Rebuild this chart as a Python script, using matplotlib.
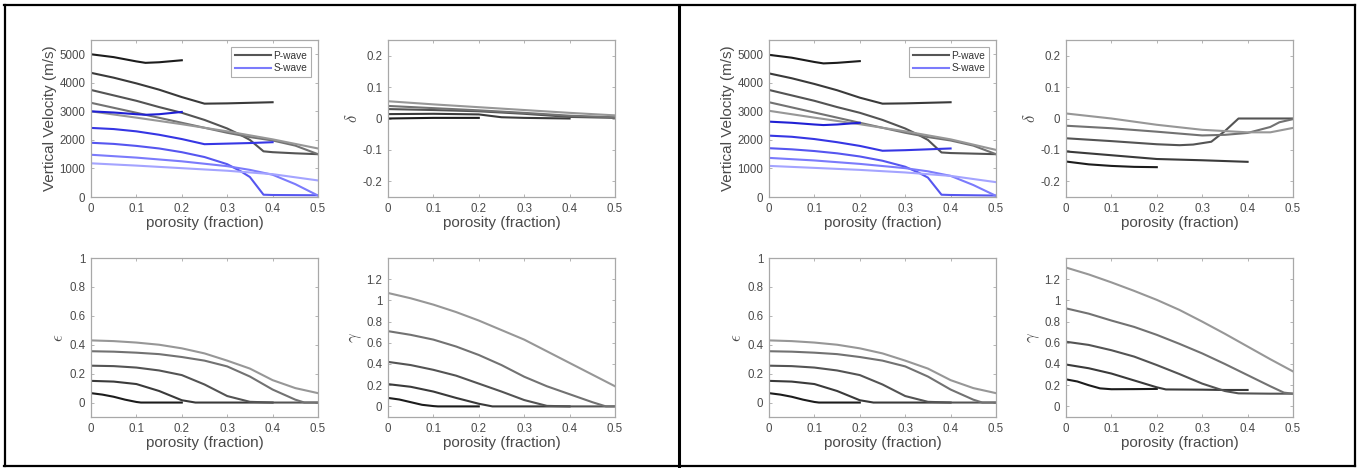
import numpy as np
import matplotlib
matplotlib.use('Agg')
import matplotlib.pyplot as plt
from matplotlib.lines import Line2D

plt.rcParams['font.family'] = ['Liberation Sans', 'DejaVu Sans']
plt.rcParams['mathtext.fontset'] = 'cm'

W, H = 1359, 468

# porosity grids per curve (curve 1 stops at 0.2, curve 2 at 0.4)
phi_v1 = [0, 0.05, 0.1, 0.12, 0.15, 0.2]
phi_v2 = [0, 0.05, 0.1, 0.15, 0.2, 0.25, 0.3, 0.35, 0.4]
phi_v3 = [0, 0.05, 0.1, 0.15, 0.2, 0.25, 0.3, 0.33, 0.35, 0.38, 0.4, 0.45, 0.5]
phi_v4 = [0, 0.1, 0.2, 0.3, 0.35, 0.4, 0.45, 0.5]
phi_v5 = [0, 0.1, 0.2, 0.3, 0.4, 0.5]
phi_vel = [phi_v1, phi_v2, phi_v3, phi_v4, phi_v5]

# ---- left case ----
vp_left = [
    [5000, 4900, 4750, 4700, 4720, 4790],
    [4350, 4180, 3980, 3760, 3500, 3270, 3280, 3300, 3320],
    [3750, 3560, 3370, 3150, 2950, 2700, 2400, 2170, 2000, 1600, 1570, 1530, 1500],
    [3300, 2950, 2600, 2250, 2100, 1980, 1800, 1500],
    [3000, 2780, 2550, 2300, 2020, 1700],
]
vs_left = [
    [3000, 2960, 2900, 2880, 2900, 2980],
    [2420, 2380, 2300, 2180, 2030, 1850, 1870, 1890, 1920],
    [1900, 1860, 1790, 1700, 1570, 1400, 1150, 900, 700, 80, 70, 65, 60],
    [1480, 1380, 1250, 1080, 950, 780, 450, 50],
    [1180, 1100, 1010, 920, 800, 580],
]

phi_d1 = [0, 0.05, 0.1, 0.15, 0.2]
phi_d2 = [0, 0.1, 0.2, 0.25, 0.3, 0.4]
phi_d3 = [0, 0.1, 0.2, 0.3, 0.4, 0.5]
phi_d4 = [0, 0.1, 0.2, 0.3, 0.4, 0.5]
phi_d5 = [0, 0.1, 0.2, 0.3, 0.4, 0.5]
delta_left = [
    [0.0, 0.001, 0.002, 0.002, 0.002],
    [0.014, 0.015, 0.013, 0.004, 0.002, 0.0],
    [0.030, 0.027, 0.023, 0.015, 0.005, 0.002],
    [0.040, 0.033, 0.026, 0.018, 0.009, 0.004],
    [0.055, 0.045, 0.036, 0.027, 0.018, 0.010],
]
phi_delta_left = [phi_d1, phi_d2, phi_d3, phi_d4, phi_d5]

phi_e1 = [0, 0.025, 0.05, 0.075, 0.1, 0.11, 0.15, 0.2]
phi_e2 = [0, 0.05, 0.1, 0.15, 0.2, 0.23, 0.3, 0.4]
phi_e3 = [0, 0.05, 0.1, 0.15, 0.2, 0.25, 0.3, 0.35, 0.4, 0.5]
phi_e4 = [0, 0.05, 0.1, 0.15, 0.2, 0.25, 0.3, 0.35, 0.4, 0.45, 0.47, 0.5]
phi_e5 = [0, 0.05, 0.1, 0.15, 0.2, 0.25, 0.3, 0.35, 0.4, 0.45, 0.5]
phi_eps = [phi_e1, phi_e2, phi_e3, phi_e4, phi_e5]
eps_vals = [
    [0.065, 0.055, 0.04, 0.02, 0.004, 0.0, 0.0, 0.0],
    [0.15, 0.145, 0.128, 0.08, 0.016, 0.0, 0.0, 0.0],
    [0.255, 0.252, 0.242, 0.222, 0.19, 0.125, 0.045, 0.005, 0.0, 0.0],
    [0.355, 0.352, 0.345, 0.335, 0.315, 0.29, 0.25, 0.18, 0.09, 0.02, 0.0, 0.0],
    [0.43, 0.425, 0.415, 0.40, 0.375, 0.34, 0.29, 0.235, 0.155, 0.10, 0.065],
]

phi_g1 = [0, 0.025, 0.05, 0.075, 0.1, 0.11, 0.2]
phi_g2 = [0, 0.05, 0.1, 0.15, 0.2, 0.23, 0.3, 0.4]
phi_g3 = [0, 0.05, 0.1, 0.15, 0.2, 0.25, 0.3, 0.35, 0.4, 0.5]
phi_g4 = [0, 0.05, 0.1, 0.15, 0.2, 0.25, 0.3, 0.35, 0.4, 0.45, 0.48, 0.5]
phi_g5 = [0, 0.05, 0.1, 0.15, 0.2, 0.25, 0.3, 0.35, 0.4, 0.45, 0.5]
phi_gamma_left = [phi_g1, phi_g2, phi_g3, phi_g4, phi_g5]
gamma_left = [
    [0.08, 0.065, 0.04, 0.015, 0.003, 0.0, 0.0],
    [0.21, 0.185, 0.14, 0.08, 0.025, 0.0, 0.0, 0.0],
    [0.42, 0.39, 0.345, 0.29, 0.215, 0.14, 0.06, 0.005, 0.0, 0.0],
    [0.71, 0.675, 0.63, 0.565, 0.485, 0.39, 0.28, 0.19, 0.115, 0.04, 0.0, 0.0],
    [1.07, 1.02, 0.96, 0.89, 0.81, 0.72, 0.63, 0.52, 0.41, 0.30, 0.19],
]

# ---- right case ----
vp_right = [
    [4980, 4880, 4730, 4680, 4700, 4760],
    [4330, 4160, 3960, 3740, 3480, 3270, 3280, 3300, 3320],
    [3750, 3560, 3370, 3150, 2950, 2700, 2400, 2170, 2000, 1560, 1540, 1520, 1500],
    [3320, 2960, 2600, 2250, 2100, 1980, 1800, 1500],
    [3020, 2780, 2550, 2300, 2020, 1650],
]
vs_right = [
    [2640, 2600, 2540, 2520, 2540, 2600],
    [2150, 2110, 2030, 1920, 1790, 1620, 1640, 1670, 1700],
    [1710, 1670, 1610, 1530, 1420, 1270, 1060, 850, 680, 80, 70, 60, 50],
    [1370, 1280, 1160, 1010, 900, 740, 420, 40],
    [1090, 1020, 950, 860, 740, 520],
]

phi_dr1 = [0, 0.05, 0.1, 0.15, 0.2]
phi_dr2 = [0, 0.1, 0.2, 0.3, 0.4]
phi_dr3 = [0, 0.1, 0.2, 0.25, 0.28, 0.32, 0.35, 0.38, 0.5]
phi_dr4 = [0, 0.1, 0.2, 0.3, 0.35, 0.4, 0.45, 0.47, 0.5]
phi_dr5 = [0, 0.1, 0.2, 0.3, 0.4, 0.45, 0.5]
phi_delta_right = [phi_dr1, phi_dr2, phi_dr3, phi_dr4, phi_dr5]
delta_right = [
    [-0.137, -0.146, -0.151, -0.154, -0.155],
    [-0.105, -0.117, -0.129, -0.133, -0.138],
    [-0.063, -0.072, -0.082, -0.085, -0.083, -0.074, -0.04, 0.0, 0.0],
    [-0.023, -0.031, -0.042, -0.054, -0.052, -0.046, -0.027, -0.012, -0.002],
    [0.016, 0.0, -0.02, -0.036, -0.044, -0.044, -0.03],
]

phi_gr1 = [0, 0.025, 0.05, 0.075, 0.1, 0.15, 0.2]
phi_gr2 = [0, 0.05, 0.1, 0.15, 0.2, 0.22, 0.3, 0.35, 0.4]
phi_gr3 = [0, 0.05, 0.1, 0.15, 0.2, 0.25, 0.3, 0.35, 0.38, 0.45, 0.5]
phi_gr4 = [0, 0.05, 0.1, 0.15, 0.2, 0.25, 0.3, 0.35, 0.4, 0.45, 0.48, 0.5]
phi_gr5 = [0, 0.05, 0.1, 0.15, 0.2, 0.25, 0.3, 0.35, 0.4, 0.45, 0.5]
phi_gamma_right = [phi_gr1, phi_gr2, phi_gr3, phi_gr4, phi_gr5]
gamma_right = [
    [0.255, 0.235, 0.2, 0.17, 0.162, 0.163, 0.165],
    [0.395, 0.36, 0.31, 0.245, 0.18, 0.16, 0.158, 0.155, 0.155],
    [0.61, 0.58, 0.53, 0.47, 0.39, 0.305, 0.215, 0.145, 0.123, 0.12, 0.12],
    [0.925, 0.875, 0.81, 0.75, 0.675, 0.59, 0.5, 0.4, 0.295, 0.19, 0.13, 0.12],
    [1.31, 1.245, 1.17, 1.09, 1.005, 0.91, 0.8, 0.685, 0.565, 0.445, 0.33],
]

GREYS = ['#1c1c1c', '#3a3a3a', '#545454', '#727272', '#979797']
BLUES = ['#2020d4', '#3636e4', '#5656f0', '#7b7bfc', '#a4a4ff']
FRAME = '#a8a8a8'
TXT = '#4a4a4a'


def px_axes(fig, x0, y0, x1, y1):
    """pixel box (top-left origin) -> axes"""
    return fig.add_axes([x0 / W, 1 - y1 / H, (x1 - x0) / W, (y1 - y0) / H])


def style(ax, ylim, yticks, ylabel, ylabel_size=11):
    ax.set_xlim(0, 0.5)
    ax.set_ylim(*ylim)
    ax.set_xticks([0, 0.1, 0.2, 0.3, 0.4, 0.5])
    ax.set_xticklabels(['0', '0.1', '0.2', '0.3', '0.4', '0.5'])
    ax.set_yticks(yticks)
    ax.set_yticklabels([('%g' % t) for t in yticks])
    ax.tick_params(direction='in', length=2.5, width=0.6, top=True, right=True,
                   labelsize=8.3, colors=FRAME, labelcolor=TXT, pad=4)
    for s in ax.spines.values():
        s.set_color(FRAME)
        s.set_linewidth(0.9)
    ax.set_xlabel('porosity (fraction)', fontsize=11, color=TXT, labelpad=1)
    ax.set_ylabel(ylabel, fontsize=ylabel_size, color=TXT, labelpad=2)


def draw_case(fig, dx, vp, vs, phi_delta, delta, eps, phi_gamma, gamma):
    ax = px_axes(fig, 91 + dx, 40, 318 + dx, 197)
    for i in range(5):
        ax.plot(phi_vel[i], vp[i], color=GREYS[i], lw=1.5)
    for i in range(5):
        ax.plot(phi_vel[i], vs[i], color=BLUES[i], lw=1.5)
    style(ax, (0, 5500), [0, 1000, 2000, 3000, 4000, 5000], 'Vertical Velocity (m/s)', 11)
    handles = [Line2D([], [], color='#555555', lw=1.5), Line2D([], [], color='#7b7bfc', lw=1.5)]
    leg = ax.legend(handles, ['P-wave', 'S-wave'], loc='upper right', fontsize=7.3,
                    frameon=True, fancybox=False, borderaxespad=0.7, handlelength=3.6,
                    handletextpad=0.2, borderpad=0.35, labelspacing=0.25)
    leg.get_frame().set_edgecolor('#999999')
    leg.get_frame().set_linewidth(0.8)
    for t in leg.get_texts():
        t.set_color('#333333')

    ax = px_axes(fig, 388 + dx, 40, 615 + dx, 197)
    for i in range(5):
        ax.plot(phi_delta[i], delta[i], color=GREYS[i], lw=1.5)
    style(ax, (-0.25, 0.25), [-0.2, -0.1, 0, 0.1, 0.2], r'$\delta$', 12)

    ax = px_axes(fig, 91 + dx, 258, 318 + dx, 417)
    for i in range(5):
        ax.plot(phi_eps[i], eps[i], color=GREYS[i], lw=1.5)
    style(ax, (-0.1, 1.0), [0, 0.2, 0.4, 0.6, 0.8, 1.0], r'$\epsilon$', 12)

    ax = px_axes(fig, 388 + dx, 258, 615 + dx, 417)
    for i in range(5):
        ax.plot(phi_gamma[i], gamma[i], color=GREYS[i], lw=1.5)
    style(ax, (-0.1, 1.4), [0, 0.2, 0.4, 0.6, 0.8, 1.0, 1.2], r'$\gamma$', 12)


fig = plt.figure(figsize=(W / 100, H / 100), dpi=100)

draw_case(fig, 0, vp_left, vs_left, phi_delta_left, delta_left, eps_vals,
          phi_gamma_left, gamma_left)
draw_case(fig, 678, vp_right, vs_right, phi_delta_right, delta_right, eps_vals,
          phi_gamma_right, gamma_right)

# outer frames of the two panels
def fig_line(x0, y0, x1, y1, lw):
    fig.add_artist(Line2D([x0 / W, x1 / W], [1 - y0 / H, 1 - y1 / H],
                          transform=fig.transFigure, color='black', lw=lw))

fig_line(4, 5, 1355, 5, 1.6)
fig_line(4, 466, 1355, 466, 1.6)
fig_line(4.5, 5, 4.5, 466, 1.6)
fig_line(1354.5, 5, 1354.5, 466, 1.6)
fig_line(679, 5, 679, 466, 2.2)

fig.savefig('out.png', dpi=100)
